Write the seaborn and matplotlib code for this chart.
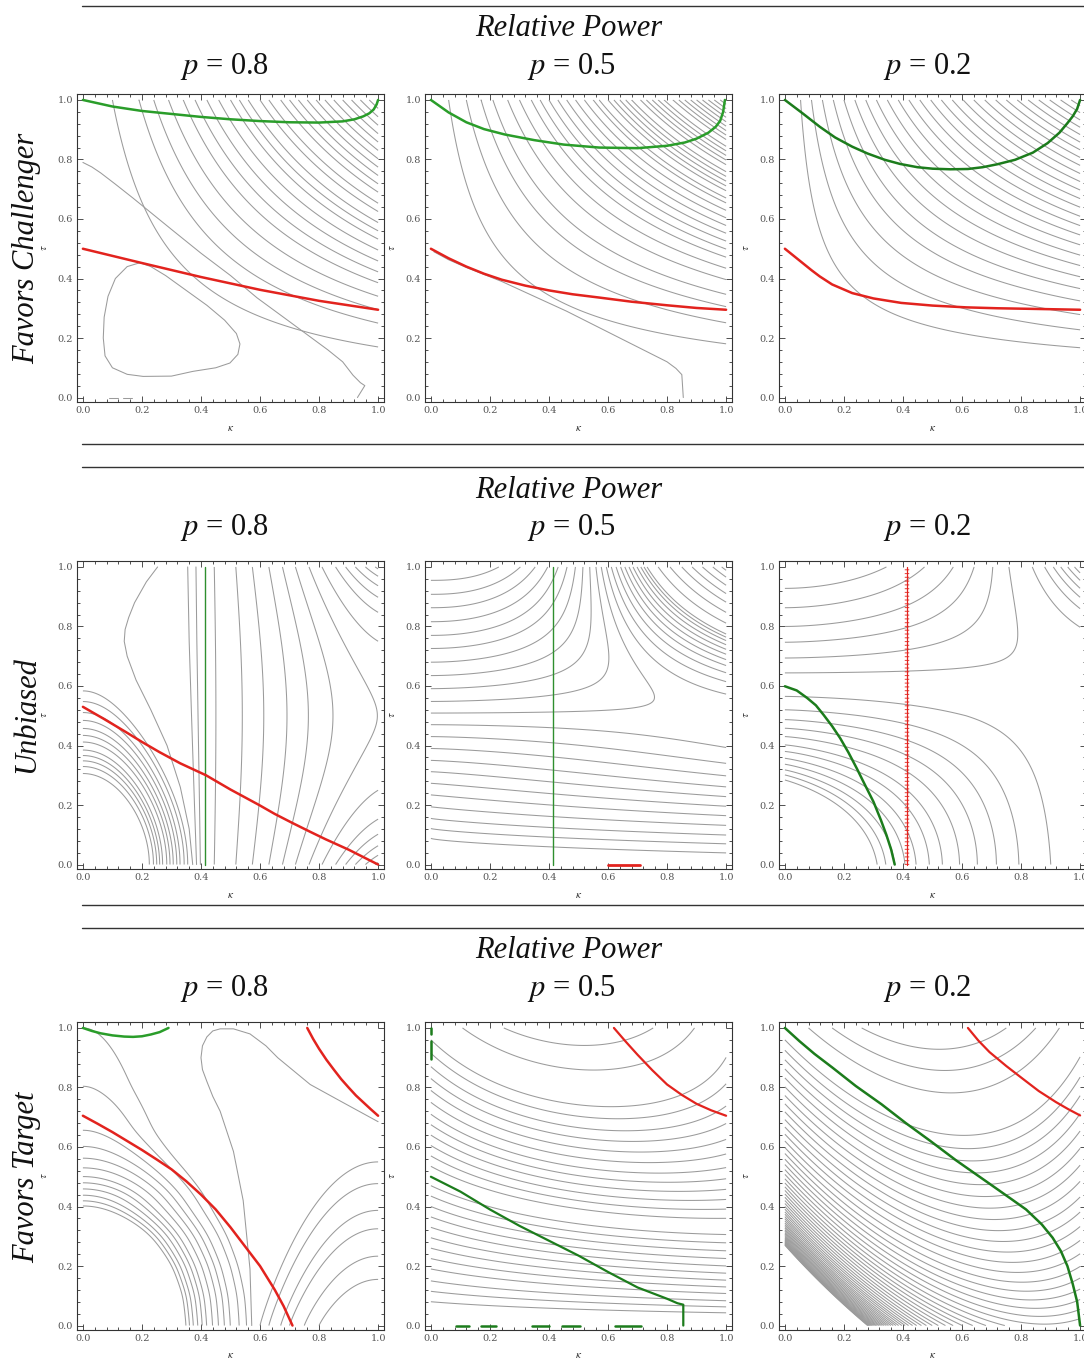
import numpy as np
import matplotlib
matplotlib.use("Agg")
import matplotlib.pyplot as plt
from matplotlib.lines import Line2D
from matplotlib.ticker import MultipleLocator
import seaborn as sns

sns.set_theme(style="white")
plt.rcParams["font.family"] = ["Liberation Serif", "DejaVu Serif"]
plt.rcParams["mathtext.fontset"] = "stix"

# ------------------------------------------------------------------ text
ROW_LABELS = ["Favors Challenger", "Unbiased", "Favors Target"]
HEADER = "Relative Power"
P_LABELS = ["0.8", "0.5", "0.2"]
TICK_VALUES = [0.0, 0.2, 0.4, 0.6, 0.8, 1.0]
TICK_LABELS = ["0.0", "0.2", "0.4", "0.6", "0.8", "1.0"]

# ------------------------------------------------------------------ row 1 : favors challenger
P11_TOP = [0.10, 0.19, 0.24, 0.29, 0.34, 0.38, 0.42, 0.46, 0.50, 0.53, 0.56, 0.60,
           0.63, 0.67, 0.70, 0.73, 0.76, 0.79, 0.82, 0.85, 0.88, 0.91, 0.94, 0.97]
P11_LOOP_K = [0.193, 0.15, 0.11, 0.085, 0.072, 0.069, 0.075, 0.10, 0.15, 0.204, 0.30, 0.373,
              0.45, 0.498, 0.525, 0.532, 0.52, 0.48, 0.42, 0.35, 0.28, 0.23, 0.193]
P11_LOOP_T = [0.453, 0.44, 0.40, 0.34, 0.27, 0.20, 0.14, 0.10, 0.078, 0.071, 0.072, 0.088,
              0.10, 0.116, 0.145, 0.18, 0.215, 0.26, 0.31, 0.36, 0.41, 0.44, 0.453]
P11_DIAG_K = [0.0, 0.03, 0.06, 0.11, 0.17, 0.3, 0.4, 0.5, 0.59, 0.7, 0.83, 0.88, 0.915, 0.94, 0.955, 0.93]
P11_DIAG_T = [0.79, 0.775, 0.755, 0.717, 0.67, 0.565, 0.485, 0.41, 0.335, 0.255, 0.16, 0.12, 0.075, 0.05, 0.04, 0.0]
P11_RED_K = [0.0, 0.2, 0.4, 0.6, 0.8, 1.0]
P11_RED_T = [0.50, 0.452, 0.405, 0.362, 0.325, 0.295]
P11_GREEN_K = [0.0, 0.1, 0.2, 0.3, 0.4, 0.5, 0.6, 0.7, 0.8, 0.88, 0.92, 0.95, 0.97, 0.985, 0.995, 1.0]
P11_GREEN_T = [1.0, 0.978, 0.963, 0.953, 0.943, 0.935, 0.929, 0.925, 0.924, 0.928, 0.935, 0.945, 0.955, 0.968, 0.985, 1.0]

P12_TOP = [0.06, 0.12, 0.17, 0.21, 0.26, 0.30, 0.34, 0.37, 0.40, 0.43, 0.46, 0.49, 0.52, 0.55,
           0.57, 0.60, 0.62, 0.64, 0.66, 0.68, 0.71, 0.73, 0.75, 0.77, 0.79, 0.82, 0.84, 0.86,
           0.88, 0.90, 0.92, 0.94, 0.96, 0.98]
P12_LOW_K = [0.01, 0.06, 0.12, 0.24, 0.35, 0.46, 0.57, 0.69, 0.80, 0.83, 0.85, 0.855]
P12_LOW_T = [0.49, 0.463, 0.437, 0.39, 0.34, 0.29, 0.235, 0.175, 0.12, 0.098, 0.077, 0.0]
P12_RED_K = [0.0, 0.06, 0.12, 0.18, 0.24, 0.32, 0.4, 0.48, 0.57, 0.68, 0.8, 0.9, 1.0]
P12_RED_T = [0.5, 0.468, 0.44, 0.416, 0.396, 0.376, 0.36, 0.347, 0.336, 0.322, 0.31, 0.301, 0.295]
P12_GREEN_K = [0.0, 0.06, 0.12, 0.18, 0.25, 0.35, 0.45, 0.57, 0.7, 0.8, 0.86, 0.9, 0.94, 0.965, 0.98, 0.99, 0.996]
P12_GREEN_T = [1.0, 0.958, 0.925, 0.902, 0.884, 0.865, 0.85, 0.84, 0.838, 0.846, 0.857, 0.87, 0.89, 0.91, 0.93, 0.96, 1.0]

P13_TOP = [0.053, 0.09, 0.127, 0.164, 0.2, 0.237, 0.274, 0.31, 0.347, 0.384, 0.42, 0.457,
           0.494, 0.53, 0.567, 0.604, 0.64, 0.677, 0.714, 0.75, 0.787, 0.824, 0.86, 0.897,
           0.934, 0.97]
P13_RED_K = [0.0, 0.03, 0.06, 0.09, 0.118, 0.16, 0.228, 0.3, 0.394, 0.5, 0.615, 0.72, 0.835, 1.0]
P13_RED_T = [0.5, 0.476, 0.452, 0.428, 0.407, 0.38, 0.351, 0.333, 0.318, 0.309, 0.303, 0.3, 0.298, 0.295]
P13_GREEN_K = [0.0, 0.06, 0.118, 0.17, 0.228, 0.28, 0.338, 0.39, 0.449, 0.5, 0.56, 0.62, 0.67,
               0.72, 0.78, 0.84, 0.89, 0.93, 0.957, 0.975, 0.99, 1.0]
P13_GREEN_T = [1.0, 0.955, 0.91, 0.874, 0.843, 0.82, 0.799, 0.785, 0.774, 0.769, 0.767, 0.768, 0.774,
               0.784, 0.799, 0.823, 0.855, 0.89, 0.922, 0.945, 0.97, 1.0]

# ------------------------------------------------------------------ row 2 : unbiased
P21_ARC_BOTTOM = [0.225, 0.239, 0.25, 0.26, 0.27, 0.284, 0.295, 0.306, 0.318, 0.329, 0.343, 0.355]
P21_TOP = [0.445, 0.518, 0.574, 0.63, 0.676, 0.72, 0.766, 0.81, 0.856, 0.89, 0.923, 0.957, 0.99]
P21_S_K = [0.253, 0.215, 0.175, 0.155, 0.143, 0.14, 0.15, 0.18, 0.23, 0.285, 0.33, 0.36, 0.372]
P21_S_T = [1.0, 0.95, 0.88, 0.83, 0.79, 0.75, 0.70, 0.62, 0.52, 0.40, 0.26, 0.12, 0.0]
P21_V1_K = [0.355, 0.36, 0.368, 0.378, 0.385]
P21_V2_K = [0.383, 0.386, 0.39, 0.395, 0.398]
P21_V_T = [1.0, 0.75, 0.5, 0.2, 0.0]
P21_RED_K = [0.0, 0.07, 0.146, 0.2, 0.259, 0.33, 0.417, 0.5, 0.597, 0.65, 0.709, 0.77, 0.822, 0.9, 0.95, 1.0]
P21_RED_T = [0.53, 0.49, 0.445, 0.412, 0.378, 0.34, 0.30, 0.252, 0.2, 0.17, 0.14, 0.11, 0.085, 0.05, 0.025, 0.0]
P21_GREEN_K = [0.415, 0.415]
P21_GREEN_T = [0.0, 1.0]

P22_LEFT = [0.088, 0.121, 0.155, 0.194, 0.234, 0.273, 0.312, 0.35, 0.39, 0.43, 0.47, 0.509,
            0.548, 0.591, 0.635, 0.68, 0.726, 0.77, 0.816, 0.863, 0.908, 0.955]
P22_TOP_RIGHT = [0.77, 0.81, 0.85, 0.885, 0.92, 0.955, 0.985]
P22_GREEN_K = [0.415, 0.415]
P22_GREEN_T = [0.0, 1.0]
P22_RED_K = [0.60, 0.71]
P22_RED_T = [0.0, 0.0]

P23_LEFT = [0.284, 0.301, 0.318, 0.337, 0.357, 0.38, 0.402, 0.43, 0.458, 0.487, 0.52, 0.565,
            0.644, 0.694, 0.747, 0.80, 0.863, 0.928]
P23_GREEN_K = [0.0, 0.04, 0.075, 0.105, 0.131, 0.16, 0.187, 0.215, 0.243, 0.27, 0.3, 0.325, 0.344, 0.36, 0.372]
P23_GREEN_T = [0.599, 0.585, 0.56, 0.535, 0.503, 0.465, 0.425, 0.377, 0.324, 0.27, 0.211, 0.15, 0.099, 0.05, 0.0]
P23_RED_K = [0.414, 0.414]
P23_RED_T = [0.0, 1.0]

# ------------------------------------------------------------------ row 3 : favors target
# left arcs: where each grey line meets the bottom edge and the left edge
P31_ARC_BOTTOM = [0.35, 0.362, 0.375, 0.39, 0.405, 0.42, 0.44, 0.46, 0.48, 0.50, 0.53, 0.555]
P31_ARC_LEFT = [0.40, 0.42, 0.44, 0.46, 0.48, 0.50, 0.53, 0.56, 0.60, 0.65, 0.80, 1.0]
P31_RIGHT_BOTTOM = [0.60, 0.63, 0.67, 0.70, 0.75, 0.80]
P31_LOOP_K = [0.572, 0.566, 0.543, 0.51, 0.465, 0.44, 0.42, 0.405, 0.40, 0.405, 0.42, 0.44, 0.465,
              0.51, 0.566, 0.62, 0.66, 0.77, 0.88, 1.0]
P31_LOOP_T = [0.0, 0.19, 0.42, 0.585, 0.72, 0.77, 0.82, 0.86, 0.90, 0.94, 0.97, 0.99, 0.997,
              0.997, 0.98, 0.94, 0.90, 0.81, 0.75, 0.685]
P31_RED1_K = [0.0, 0.05, 0.1, 0.15, 0.2, 0.25, 0.3, 0.35, 0.4, 0.45, 0.5, 0.55, 0.6, 0.65, 0.68, 0.71]
P31_RED1_T = [0.705, 0.678, 0.65, 0.62, 0.59, 0.558, 0.525, 0.485, 0.44, 0.39, 0.33, 0.265, 0.2, 0.12, 0.065, 0.0]
P31_RED2_K = [0.76, 0.78, 0.8, 0.825, 0.85, 0.875, 0.9, 0.925, 0.95, 0.975, 1.0]
P31_RED2_T = [1.0, 0.963, 0.93, 0.893, 0.86, 0.828, 0.8, 0.773, 0.75, 0.727, 0.705]
P31_GREEN_K = [0.0, 0.03, 0.06, 0.1, 0.14, 0.17, 0.2, 0.23, 0.26, 0.29]
P31_GREEN_T = [1.0, 0.99, 0.982, 0.975, 0.971, 0.97, 0.972, 0.978, 0.986, 1.0]

P32_LEFT = [0.08, 0.115, 0.15, 0.19, 0.225, 0.26, 0.295, 0.33, 0.365, 0.40, 0.435, 0.47,
            0.535, 0.57, 0.605, 0.64, 0.675, 0.71, 0.75, 0.79, 0.83, 0.87, 0.915, 0.96]
P32_TOP_U = [0.107, 0.247]
P32_RED_K = [0.62, 0.66, 0.7, 0.75, 0.8, 0.85, 0.9, 0.95, 1.0]
P32_RED_T = [1.0, 0.954, 0.91, 0.858, 0.81, 0.775, 0.745, 0.723, 0.705]
P32_GREEN_K = [0.0, 0.1, 0.2, 0.3, 0.4, 0.5, 0.6, 0.7, 0.8, 0.835, 0.855, 0.855]
P32_GREEN_T = [0.5, 0.45, 0.39, 0.335, 0.285, 0.235, 0.18, 0.128, 0.09, 0.075, 0.07, 0.0]
P32_DASH_START = [0.084, 0.169, 0.343, 0.444, 0.624]
P32_DASH_END = [0.129, 0.219, 0.399, 0.506, 0.713]
P32_LEFT_DASH_LOW = [0.98, 0.895]
P32_LEFT_DASH_HIGH = [1.0, 0.957]

P33_LEFT = [0.270, 0.2715, 0.273, 0.275, 0.277, 0.2795, 0.282, 0.285, 0.288, 0.2915, 0.295,
            0.299, 0.303, 0.3075, 0.312, 0.317, 0.322, 0.3275, 0.333, 0.339, 0.345, 0.352,
            0.359, 0.366, 0.374, 0.382, 0.391, 0.40, 0.41, 0.42, 0.431, 0.442, 0.454, 0.466,
            0.479, 0.493, 0.508, 0.524, 0.541, 0.559, 0.578, 0.598, 0.62, 0.643, 0.667, 0.692,
            0.718, 0.745, 0.773, 0.802, 0.832, 0.862, 0.893, 0.925, 0.96]
P33_TOP_U = [0.08, 0.16, 0.26]
P33_RED_K = [0.62, 0.655, 0.693, 0.75, 0.806, 0.86, 0.918, 0.96, 1.0]
P33_RED_T = [1.0, 0.958, 0.919, 0.872, 0.829, 0.788, 0.751, 0.727, 0.706]
P33_GREEN_K = [0.0, 0.05, 0.1, 0.162, 0.24, 0.328, 0.41, 0.493, 0.58, 0.681, 0.76, 0.817, 0.87,
               0.907, 0.935, 0.957, 0.975, 0.99, 1.0]
P33_GREEN_T = [1.0, 0.955, 0.913, 0.866, 0.805, 0.743, 0.68, 0.62, 0.555, 0.485, 0.43, 0.39, 0.34,
               0.295, 0.25, 0.2, 0.14, 0.08, 0.0]

# ------------------------------------------------------------------ style
GRAY = "#9b9b9b"
RED = "#e2231e"
GREEN_LIGHT = "#2a9d2a"
GREEN_DARK = "#1c7c1c"
W, H = 1084, 1358

kk = np.linspace(0.0, 1.0, 501)
tt = np.linspace(0.0, 1.0, 501)
K, T = np.meshgrid(kk, tt)


def lv(values):
    return np.unique(np.round(np.asarray(values, dtype=float), 7))


def gray_contour(ax, F, levels):
    ax.contour(kk, tt, F, levels=lv(levels), colors=GRAY, linewidths=0.75,
               linestyles="solid")


def curve(ax, x, y, color, lw, **kw):
    sns.lineplot(x=x, y=y, ax=ax, color=color, linewidth=lw, sort=False,
                 estimator=None, legend=False, **kw)


# ---- model fields (level sets drawn through the read intercepts)
def f11(k, t):
    return (k + 0.1) * t ** 0.962


def f12(k, t):
    return (k + 0.05) * t ** 1.318


def f13(k, t):
    return (k - 0.01) * np.clip(t - 0.05, 0, None) ** 1.5


def a21(k, t):
    return k ** 2 + 0.7293 * t ** 2 - 0.6155 * t ** 3


def r21(k, t):
    u = k - 0.415
    return u - 0.787 * u ** 2 + 0.70 * u * (t - 0.5) ** 2


def f22(k, t):
    return t + (0.5 - t) * (0.1 + 4 * t ** 2) * k ** (0.5 + 2.1 * t)


def f23(k, t):
    p = 0.96 + 1.44 * np.clip(t - 0.5, 0, None)
    return t + (0.63 - t) * p * k ** (0.65 + 1.37 * t)


def a31(k, t):
    # each arc joins its bottom intercept to its left intercept (profile smoothed)
    lefts = np.array(P31_ARC_LEFT)
    bottoms = np.array(P31_ARC_BOTTOM) ** 2
    xp = np.concatenate([[0.0, 0.1, 0.2, 0.3], lefts])
    fp = np.concatenate([[0.0, 0.0077, 0.031, 0.069], bottoms])
    fine = np.linspace(-0.3, 1.3, 1601)
    slope_end = (fp[-1] - fp[-2]) / (xp[-1] - xp[-2])
    prof = np.interp(fine, xp, fp)
    prof = np.where(fine > 1.0, fp[-1] + slope_end * (fine - 1.0), prof)
    prof = np.where(fine < 0.0, 0.0, prof)
    ker = np.exp(-0.5 * (np.arange(-60, 61) / 25.0) ** 2)
    ker /= ker.sum()
    smooth = np.convolve(prof, ker, mode="same")
    return k ** 2 + np.interp(t, fine, smooth)


def b31(k, t):
    return (1 - k) ** 2 + 0.308 * t ** 1.095


def f32(k, t):
    return t * (1 + k) - k ** 2 * t ** 1.65


def f33(k, t):
    return t + k * (1.146 - 0.136 * t) - k ** 2 * (0.65 + 0.35 * t)


# ------------------------------------------------------------------ figure
fig = plt.figure(figsize=(W / 100, H / 100), dpi=100)

COL_X = [77, 425, 779]
ROW_TOP = [94, 561, 1022]
AX_W, AX_H = 307, 308


def make_ax(r, c):
    ax = fig.add_axes([COL_X[c] / W, 1 - (ROW_TOP[r] + AX_H) / H, AX_W / W, AX_H / H])
    ax.set_xlim(-0.02, 1.02)
    ax.set_ylim(-0.015, 1.02)
    ax.set_xticks(TICK_VALUES)
    ax.set_yticks(TICK_VALUES)
    ax.set_xticklabels(TICK_LABELS, family="DejaVu Serif")
    ax.set_yticklabels(TICK_LABELS, family="DejaVu Serif")
    ax.xaxis.set_minor_locator(MultipleLocator(0.04))
    ax.yaxis.set_minor_locator(MultipleLocator(0.04))
    ax.tick_params(which="both", direction="in", top=True, right=True, bottom=True, left=True,
                   width=0.6, color="#333333", labelsize=7, labelcolor="#555555")
    ax.tick_params(which="major", length=4, pad=3)
    ax.tick_params(which="minor", length=2.2)
    for s in ax.spines.values():
        s.set_color("#333333")
        s.set_linewidth(0.8)
    ax.set_xlabel(r"$\kappa$", fontsize=8, labelpad=6, color="#333333")
    ax.set_ylabel(r"$\tau$", fontsize=8, labelpad=6, color="#333333")
    ax.grid(False)
    return ax


axes = [[make_ax(r, c) for c in range(3)] for r in range(3)]

# ---- row 1
ax = axes[0][0]
gray_contour(ax, f11(K, T), f11(np.array(P11_TOP), 1.0))
curve(ax, P11_LOOP_K, P11_LOOP_T, GRAY, 0.75)
curve(ax, P11_DIAG_K, P11_DIAG_T, GRAY, 0.75)
curve(ax, [0.09, 0.12], [0.0, 0.0], GRAY, 0.75)
curve(ax, [0.135, 0.165], [0.0, 0.0], GRAY, 0.75)
curve(ax, P11_RED_K, P11_RED_T, RED, 1.8)
curve(ax, P11_GREEN_K, P11_GREEN_T, GREEN_LIGHT, 1.8)

ax = axes[0][1]
gray_contour(ax, f12(K, T), f12(np.array(P12_TOP), 1.0))
curve(ax, P12_LOW_K, P12_LOW_T, GRAY, 0.75)
curve(ax, P12_RED_K, P12_RED_T, RED, 1.8)
curve(ax, P12_GREEN_K, P12_GREEN_T, GREEN_LIGHT, 1.8)

ax = axes[0][2]
gray_contour(ax, f13(K, T), f13(np.array(P13_TOP), 1.0))
curve(ax, P13_RED_K, P13_RED_T, RED, 1.8)
curve(ax, P13_GREEN_K, P13_GREEN_T, GREEN_DARK, 1.8)

# ---- row 2
ax = axes[1][0]
gray_contour(ax, np.where(T < 0.75, a21(K, T), np.nan), np.array(P21_ARC_BOTTOM) ** 2)
gray_contour(ax, r21(K, T), r21(np.array(P21_TOP), 1.0))
curve(ax, P21_S_K, P21_S_T, GRAY, 0.75)
curve(ax, P21_V1_K, P21_V_T, GRAY, 0.75)
curve(ax, P21_V2_K, P21_V_T, GRAY, 0.75)
curve(ax, P21_GREEN_K, P21_GREEN_T, "#2f8f2f", 1.0)
curve(ax, P21_RED_K, P21_RED_T, RED, 1.8)

ax = axes[1][1]
gray_contour(ax, f22(K, T), list(P22_LEFT) + list(f22(np.array(P22_TOP_RIGHT), 1.0)))
curve(ax, P22_GREEN_K, P22_GREEN_T, "#2f8f2f", 1.0)
curve(ax, P22_RED_K, P22_RED_T, RED, 2.0)

ax = axes[1][2]
gray_contour(ax, f23(K, T), P23_LEFT)
curve(ax, P23_RED_K, P23_RED_T, RED, 0.9)
curve(ax, P23_RED_K, P23_RED_T, RED, 3.2, dashes=(0.25, 0.6), alpha=0.8)
curve(ax, P23_GREEN_K, P23_GREEN_T, GREEN_DARK, 1.8)

# ---- row 3
ax = axes[2][0]
gray_contour(ax, a31(K, T), np.array(P31_ARC_BOTTOM) ** 2)
gray_contour(ax, b31(K, T), (1 - np.array(P31_RIGHT_BOTTOM)) ** 2)
curve(ax, P31_LOOP_K, P31_LOOP_T, GRAY, 0.75)
curve(ax, P31_RED1_K, P31_RED1_T, RED, 1.8)
curve(ax, P31_RED2_K, P31_RED2_T, RED, 1.8)
curve(ax, P31_GREEN_K, P31_GREEN_T, GREEN_LIGHT, 1.8)

ax = axes[2][1]
gray_contour(ax, f32(K, T), list(P32_LEFT) + list(f32(np.array(P32_TOP_U), 1.0)))
curve(ax, P32_RED_K, P32_RED_T, RED, 1.6)
curve(ax, P32_GREEN_K, P32_GREEN_T, GREEN_DARK, 1.6)
for a, b in zip(P32_DASH_START, P32_DASH_END):
    curve(ax, [a, b], [0.0, 0.0], GREEN_DARK, 1.8)
for a, b in zip(P32_LEFT_DASH_LOW, P32_LEFT_DASH_HIGH):
    curve(ax, [0.0, 0.0], [a, b], GREEN_DARK, 1.8)

ax = axes[2][2]
gray_contour(ax, f33(K, T), list(P33_LEFT) + list(f33(np.array(P33_TOP_U), 1.0)))
curve(ax, P33_RED_K, P33_RED_T, RED, 1.6)
curve(ax, P33_GREEN_K, P33_GREEN_T, GREEN_DARK, 1.8)

# ------------------------------------------------------------------ headers, rules, row labels
HEADER_Y = [28, 490, 951]
PLAB_Y = [67, 528, 989]
PLAB_X = [225, 572, 927]
ROWLAB_Y = [248, 715, 1177]
RULES_Y = [6, 444, 467, 905, 928]

for r in range(3):
    fig.text(569 / W, 1 - HEADER_Y[r] / H, HEADER, ha="center", va="center",
             fontsize=22, style="italic", color="#111111")
    for c in range(3):
        fig.text(PLAB_X[c] / W, 1 - PLAB_Y[r] / H, r"$p$ = %s" % P_LABELS[c],
                 ha="center", va="center", fontsize=22, color="#111111")
    fig.text(27 / W, 1 - ROWLAB_Y[r] / H, ROW_LABELS[r], ha="center", va="center",
             rotation=90, fontsize=22, style="italic", color="#111111")

for y in RULES_Y:
    fig.add_artist(Line2D([82 / W, 1.0], [1 - y / H, 1 - y / H], transform=fig.transFigure,
                          color="#333333", linewidth=1.0))

fig.savefig("out.png", dpi=100)
